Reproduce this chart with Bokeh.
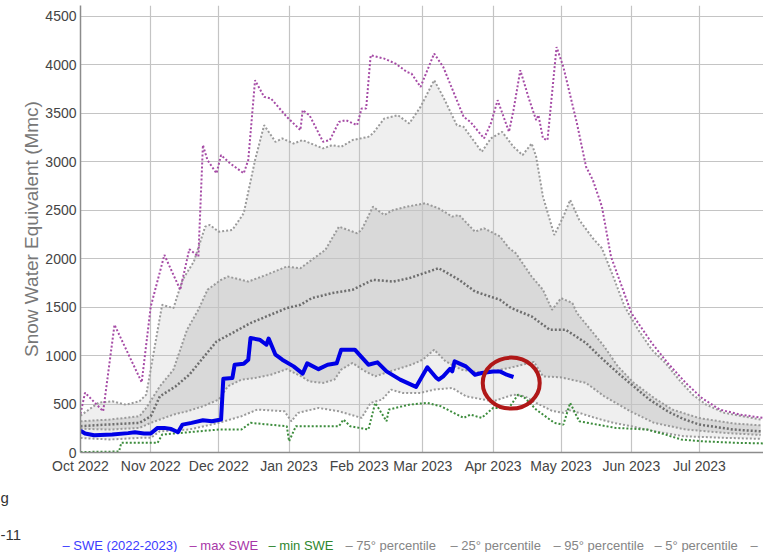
import datetime as dt
import numpy as np
import pandas as pd
from bokeh.plotting import figure
from bokeh.layouts import column
from bokeh.models import Range1d, DatetimeTickFormatter, MonthsTicker, SingleIntervalTicker
from bokeh.core.properties import value
from bokeh.embed import file_html
from bokeh.resources import INLINE

# ---------------- data ----------------
swe_dates = ["2022-10-01", "2022-10-03", "2022-10-07", "2022-10-15", "2022-10-22", "2022-10-25", "2022-10-29",
             "2022-11-01", "2022-11-04", "2022-11-07", "2022-11-10", "2022-11-13", "2022-11-15", "2022-11-19",
             "2022-11-24", "2022-11-28", "2022-12-02", "2022-12-03", "2022-12-07", "2022-12-08", "2022-12-12",
             "2022-12-14", "2022-12-15", "2022-12-19", "2022-12-22", "2022-12-23", "2022-12-26", "2022-12-29",
             "2023-01-03", "2023-01-07", "2023-01-09", "2023-01-14", "2023-01-18", "2023-01-22", "2023-01-24",
             "2023-01-30", "2023-02-05", "2023-02-09", "2023-02-13", "2023-02-19", "2023-02-26", "2023-03-03",
             "2023-03-07", "2023-03-08", "2023-03-10", "2023-03-13", "2023-03-14", "2023-03-15", "2023-03-20",
             "2023-03-24", "2023-03-27", "2023-04-01", "2023-04-04", "2023-04-07", "2023-04-10"]
swe_vals = [225, 196, 178, 185, 200, 209, 196,
            196, 254, 254, 243, 209, 288, 306,
            333, 322, 340, 760, 769, 906, 915,
            958, 1181, 1164, 1112, 1176, 1009, 958,
            889, 814, 920, 860, 906, 920, 1061,
            1061, 906, 930, 837, 752, 677, 880,
            769, 752, 786, 862, 837, 941, 889,
            803, 821, 837, 837, 803, 779]

max_dates = ["2022-10-01", "2022-10-03", "2022-10-11", "2022-10-16", "2022-10-28", "2022-11-01", "2022-11-07",
             "2022-11-14", "2022-11-18", "2022-11-22", "2022-11-24", "2022-11-26", "2022-11-30", "2022-12-02",
             "2022-12-06", "2022-12-12", "2022-12-14", "2022-12-17", "2022-12-21", "2022-12-24", "2022-12-31",
             "2023-01-06", "2023-01-07", "2023-01-10", "2023-01-16", "2023-01-19", "2023-01-23", "2023-01-26",
             "2023-01-31", "2023-02-02", "2023-02-04", "2023-02-06", "2023-02-12", "2023-02-17", "2023-02-22",
             "2023-02-24", "2023-02-28", "2023-03-06", "2023-03-10", "2023-03-19", "2023-03-22", "2023-03-28",
             "2023-03-31", "2023-04-03", "2023-04-08", "2023-04-10", "2023-04-13", "2023-04-17", "2023-04-20",
             "2023-04-21", "2023-04-23", "2023-04-25", "2023-04-29", "2023-05-02", "2023-05-08", "2023-05-12",
             "2023-05-15", "2023-05-19", "2023-05-23", "2023-06-01", "2023-06-10", "2023-06-17", "2023-06-25",
             "2023-07-02", "2023-07-10", "2023-07-19", "2023-07-29"]
max_vals = [400, 618, 425, 1318, 724, 1507, 2039,
            1679, 2098, 2022, 3172, 3018, 2881, 3069,
            2984, 2881, 3018, 3842, 3670, 3653, 3464,
            3327, 3533, 3481, 3206, 3224, 3412, 3430,
            3378, 3550, 3550, 4099, 4065, 4013, 3927,
            3911, 3773, 4117, 3979, 3464, 3412, 3241,
            3395, 3636, 3309, 3533, 3945, 3636, 3430,
            3481, 3241, 3224, 4185, 3979, 3395, 2949,
            2812, 2537, 2022, 1439, 1130, 924, 718,
            563, 443, 391, 357]

min_dates = ["2022-10-01", "2022-10-18", "2022-10-19", "2022-11-04", "2022-11-06", "2022-12-01", "2022-12-11",
             "2022-12-15", "2022-12-31", "2023-01-01", "2023-01-04", "2023-01-23", "2023-01-25", "2023-01-28",
             "2023-02-05", "2023-02-08", "2023-02-13", "2023-02-14", "2023-02-23", "2023-03-03", "2023-03-09",
             "2023-03-19", "2023-03-22", "2023-03-27", "2023-04-01", "2023-04-08", "2023-04-12", "2023-04-15",
             "2023-04-20", "2023-04-28", "2023-05-02", "2023-05-05", "2023-05-09", "2023-05-17", "2023-05-25",
             "2023-06-08", "2023-06-16", "2023-06-23", "2023-07-02", "2023-07-17", "2023-07-31"]
min_vals = [5, 10, 100, 100, 185, 237, 237,
            306, 271, 116, 271, 271, 340, 271,
            237, 512, 322, 443, 494, 512, 477,
            357, 391, 357, 460, 460, 597, 563,
            443, 306, 288, 512, 322, 288, 254,
            237, 185, 134, 116, 100, 93]

p95_dates = ["2022-10-01", "2022-10-09", "2022-10-15", "2022-10-21", "2022-10-27", "2022-10-30", "2022-11-06",
             "2022-11-11", "2022-11-15", "2022-11-20", "2022-11-25", "2022-11-27", "2022-12-01", "2022-12-07",
             "2022-12-12", "2022-12-17", "2022-12-21", "2022-12-26", "2022-12-29", "2023-01-03", "2023-01-07",
             "2023-01-16", "2023-01-20", "2023-01-24", "2023-01-29", "2023-02-05", "2023-02-07", "2023-02-12",
             "2023-02-18", "2023-02-23", "2023-02-28", "2023-03-06", "2023-03-10", "2023-03-16", "2023-03-19",
             "2023-03-27", "2023-03-31", "2023-04-05", "2023-04-10", "2023-04-14", "2023-04-18", "2023-04-20",
             "2023-04-23", "2023-04-28", "2023-05-02", "2023-05-05", "2023-05-09", "2023-05-15", "2023-05-19",
             "2023-05-24", "2023-05-29", "2023-06-04", "2023-06-10", "2023-06-16", "2023-06-22", "2023-06-28",
             "2023-07-04", "2023-07-12", "2023-07-28"]
p95_vals = [380, 515, 528, 494, 528, 597, 1524,
            1490, 1782, 1970, 2331, 2348, 2279, 2297,
            2469, 3018, 3378, 3206, 3241, 3189, 3224,
            3138, 3172, 3155, 3224, 3258, 3293, 3447,
            3481, 3395, 3567, 3842, 3670, 3378, 3361,
            3103, 3241, 3309, 3155, 3069, 3189, 3052,
            2640, 2245, 2434, 2606, 2400, 2211, 2108,
            1816, 1507, 1267, 1061, 924, 752, 597,
            494, 409, 340]

p75_dates = ["2022-10-01", "2022-10-14", "2022-10-27", "2022-10-30", "2022-11-05", "2022-11-11", "2022-11-14",
             "2022-11-17", "2022-11-22", "2022-11-26", "2022-12-02", "2022-12-05", "2022-12-14", "2022-12-22",
             "2022-12-31", "2023-01-06", "2023-01-11", "2023-01-17", "2023-01-23", "2023-01-31", "2023-02-02",
             "2023-02-07", "2023-02-12", "2023-02-16", "2023-02-22", "2023-03-02", "2023-03-08", "2023-03-14",
             "2023-03-17", "2023-03-24", "2023-03-28", "2023-04-04", "2023-04-08", "2023-04-11", "2023-04-18",
             "2023-04-23", "2023-04-27", "2023-05-01", "2023-05-06", "2023-05-08", "2023-05-14", "2023-05-20",
             "2023-05-26", "2023-06-02", "2023-06-11", "2023-06-19", "2023-07-01", "2023-07-16", "2023-07-28"]
p75_vals = [322, 340, 374, 460, 683, 855, 1061,
            1267, 1473, 1679, 1782, 1816, 1764, 1833,
            1919, 1902, 1988, 2091, 2331, 2263, 2297,
            2537, 2451, 2503, 2537, 2572, 2520, 2434,
            2451, 2279, 2314, 2230, 2110, 2057, 1816,
            1679, 1473, 1593, 1542, 1439, 1267, 1095,
            889, 720, 563, 443, 355, 300, 280]

p50_dates = ["2022-10-01", "2022-10-14", "2022-10-27", "2022-11-01", "2022-11-05", "2022-11-12", "2022-11-18",
             "2022-11-24", "2022-11-30", "2022-12-07", "2022-12-15", "2022-12-22", "2022-12-31", "2023-01-06",
             "2023-01-11", "2023-01-20", "2023-01-29", "2023-02-07", "2023-02-16", "2023-02-23", "2023-03-08",
             "2023-03-17", "2023-03-24", "2023-04-04", "2023-04-09", "2023-04-18", "2023-04-26", "2023-05-03",
             "2023-05-12", "2023-05-18", "2023-05-26", "2023-06-02", "2023-06-09", "2023-06-17", "2023-06-24",
             "2023-07-01", "2023-07-16", "2023-07-28"]
p50_vals = [271, 290, 306, 374, 580, 683, 803,
            975, 1146, 1233, 1336, 1404, 1490, 1524,
            1593, 1645, 1679, 1782, 1764, 1799, 1902,
            1782, 1662, 1576, 1490, 1404, 1267, 1267,
            1130, 992, 821, 683, 546, 425, 345,
            288, 237, 219]

p25_dates = ["2022-10-01", "2022-10-14", "2022-10-27", "2022-11-01", "2022-11-05", "2022-11-11", "2022-11-17",
             "2022-11-24", "2022-12-01", "2022-12-05", "2022-12-11", "2022-12-17", "2022-12-24", "2022-12-31",
             "2023-01-06", "2023-01-10", "2023-01-16", "2023-01-21", "2023-01-24", "2023-01-29", "2023-02-03",
             "2023-02-08", "2023-02-17", "2023-02-24", "2023-03-01", "2023-03-06", "2023-03-11", "2023-03-18",
             "2023-03-28", "2023-04-01", "2023-04-08", "2023-04-14", "2023-04-19", "2023-04-23", "2023-05-01",
             "2023-05-12", "2023-05-20", "2023-06-01", "2023-06-11", "2023-06-25", "2023-07-12", "2023-07-28"]
p25_vals = [245, 237, 254, 306, 340, 391, 425,
            477, 546, 683, 752, 769, 803, 860,
            790, 734, 718, 752, 855, 924, 845,
            786, 855, 906, 958, 1061, 941, 855,
            821, 840, 872, 906, 935, 786, 775,
            718, 580, 420, 306, 237, 203, 180]

p05_dates = ["2022-10-01", "2022-10-14", "2022-10-27", "2022-11-01", "2022-11-05", "2022-11-18", "2022-12-01",
             "2022-12-11", "2022-12-18", "2022-12-30", "2023-01-02", "2023-01-05", "2023-01-14", "2023-01-23",
             "2023-02-02", "2023-02-06", "2023-02-11", "2023-02-15", "2023-02-20", "2023-02-28", "2023-03-06",
             "2023-03-14", "2023-03-20", "2023-04-01", "2023-04-10", "2023-04-15", "2023-04-20", "2023-04-27",
             "2023-05-02", "2023-05-04", "2023-05-09", "2023-05-16", "2023-05-24", "2023-06-01", "2023-06-11",
             "2023-06-24", "2023-07-12", "2023-07-28"]
p05_vals = [150, 134, 151, 151, 219, 237, 306,
            374, 443, 425, 322, 409, 460, 425,
            357, 512, 546, 649, 615, 615, 649,
            666, 580, 528, 597, 580, 512, 430,
            409, 440, 409, 357, 306, 271, 219,
            168, 151, 141]

circle_date = "2023-04-09"
circle_value = 716

legend_texts = ["– SWE (2022-2023)", "– max SWE", "– min SWE", "– 75° percentile", "– 25° percentile",
                "– 95° percentile", "– 5° percentile", "–"]
legend_colors = ["#3c3cff", "#a836a8", "#2e862e", "#858585", "#858585", "#858585", "#858585", "#858585"]
legend_px = [62, 189, 268, 345, 450, 553, 654, 750]

side_texts = ["g", "-11"]

# ---------------- main figure ----------------
FONT = "Liberation Sans"
PX_PER_DAY = 2.267
t0 = dt.datetime(2022, 10, 1)
W = 763
p = figure(width=W, height=476, x_axis_type="datetime", output_backend="svg", toolbar_location=None,
           x_range=Range1d(t0, t0 + dt.timedelta(days=(W - 80) / PX_PER_DAY)), y_range=Range1d(0, 4613),
           min_border_left=80, min_border_right=0, min_border_top=5, min_border_bottom=23,
           frame_align=False)
p.outline_line_color = None
p.background_fill_color = "white"


def T(lst):
    return pd.to_datetime(lst).values


light_x = np.concatenate([T(p95_dates), T(p05_dates)[::-1]])
light_y = list(p95_vals) + list(p05_vals)[::-1]
p.patch(light_x, light_y, fill_color="#efefef", line_color=None, level="image")
dark_x = np.concatenate([T(p75_dates), T(p25_dates)[::-1]])
dark_y = list(p75_vals) + list(p25_vals)[::-1]
p.patch(dark_x, dark_y, fill_color="#d9d9d9", line_color=None, level="image")

dot = "2 2"
p.line(T(p05_dates), p05_vals, line_color="#9a9a9a", line_width=2, line_dash=dot)
p.line(T(p25_dates), p25_vals, line_color="#9a9a9a", line_width=2, line_dash=dot)
p.line(T(p75_dates), p75_vals, line_color="#9a9a9a", line_width=2, line_dash=dot)
p.line(T(p95_dates), p95_vals, line_color="#9a9a9a", line_width=2, line_dash=dot)
p.line(T(p50_dates), p50_vals, line_color="#6e6e6e", line_width=2.5, line_dash=dot)
p.line(T(min_dates), min_vals, line_color="#3c8c3c", line_width=2, line_dash=dot)
p.line(T(max_dates), max_vals, line_color="#a64ca6", line_width=2, line_dash=dot)
p.line(T(swe_dates), swe_vals, line_color="#0000e6", line_width=4, line_join="round")

p.ellipse(x=T([circle_date]), y=[circle_value], width=57, height=51, width_units="screen",
          height_units="screen", fill_color=None, line_color="#b01818", line_width=4)

# axes
p.xaxis.ticker = MonthsTicker(months=list(range(1, 13)))
p.xaxis.formatter = DatetimeTickFormatter(months="%b %Y", days="%b %Y", years="%b %Y")
p.yaxis.ticker = SingleIntervalTicker(interval=500)
for ax in (p.xaxis, p.yaxis):
    ax.major_tick_line_color = None
    ax.minor_tick_line_color = None
    ax.major_tick_out = 0
    ax.major_tick_in = 0
    ax.minor_tick_out = 0
    ax.minor_tick_in = 0
    ax.axis_line_color = "#8c8c8c"
    ax.axis_line_width = 1.5
    ax.major_label_text_font = FONT
    ax.major_label_text_font_size = "14px"
    ax.major_label_text_color = "#444444"
p.xaxis.major_label_standoff = 5
p.yaxis.major_label_standoff = 4
p.yaxis.axis_label = "Snow Water Equivalent (Mmc)"
p.yaxis.axis_label_text_font = FONT
p.yaxis.axis_label_text_font_style = "normal"
p.yaxis.axis_label_text_font_size = "19px"
p.yaxis.axis_label_text_color = "#777777"
p.yaxis.axis_label_standoff = 0
p.grid.grid_line_color = "#c4c4c4"
p.grid.grid_line_width = 1.2

# ---------------- bottom strip: cut-off fragments and legend row ----------------
QH = 76
q = figure(width=W, height=QH, output_backend="svg", toolbar_location=None,
           x_range=Range1d(0, W), y_range=Range1d(QH, 0), x_axis_location=None, y_axis_location=None,
           min_border=0, min_border_left=0, min_border_right=0, min_border_top=0, min_border_bottom=0,
           frame_align=False)
q.outline_line_color = None
q.grid.visible = False
q.text(x=[0, 0], y=[21, 58], text=side_texts, text_color="#333333", text_font=value(FONT),
       text_font_size="15px", text_baseline="alphabetic", text_align="left")
q.text(x=legend_px, y=[69] * len(legend_texts), text=legend_texts, text_color=legend_colors,
       text_font=value(FONT), text_font_size="13px", text_baseline="alphabetic", text_align="left")

layout = column(p, q, spacing=0)
open("out.html", "w").write(file_html(layout, INLINE))
